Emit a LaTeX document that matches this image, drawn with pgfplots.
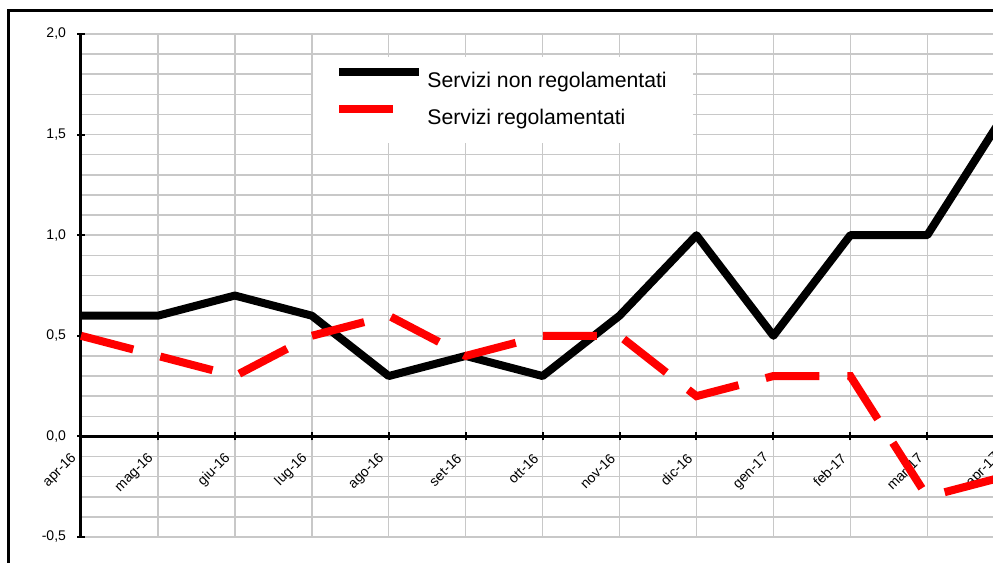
\documentclass[border=0pt]{standalone}
\usepackage{pgfplots}
\pgfplotsset{compat=1.18}
\usepackage{fontspec}
\setmainfont{Liberation Sans}

\definecolor{gridgray}{RGB}{200,200,200}

\begin{document}
\begin{tikzpicture}
% page = 993 x 563 px, 1 px = 0.5pt
\path[use as bounding box] (0,0) rectangle (496.5pt,281.5pt);
\clip (0,0) rectangle (496.5pt,281.5pt);
% chart frame (only left and top edge are inside the crop)
\draw[line width=1.5pt] (4.25pt,-10pt) -- (4.25pt,276.25pt) -- (520pt,276.25pt);

\begin{axis}[
  at={(40.5pt,13pt)}, anchor=south west,
  scale only axis, width=461.6pt, height=251.5pt,
  xmin=0, xmax=12, ymin=-0.5, ymax=2,
  clip=false,
  axis x line=middle, axis y line=left,
  axis line style={-, line width=1.5pt},
  hide obscured x ticks=false,
  xtick={0,...,12},
  xticklabels={apr-16,mag-16,giu-16,lug-16,ago-16,set-16,ott-16,nov-16,dic-16,gen-17,feb-17,mar-17,apr-17},
  ytick={-0.5,0,0.5,1,1.5,2},
  minor y tick num=4,
  xmajorgrids, ymajorgrids, yminorgrids,
  major grid style={gridgray, line width=0.75pt},
  minor grid style={gridgray, line width=0.75pt},
  tick align=center, major tick length=4pt, minor tick length=0pt,
  tick style={black, line width=1pt},
  yticklabel style={font=\fontsize{7}{8}\selectfont, xshift=-2pt,
    /pgf/number format/fixed, /pgf/number format/fixed zerofill,
    /pgf/number format/precision=1, /pgf/number format/use comma,
    /pgf/number format/assume math mode=true},
  xticklabel style={font=\fontsize{7}{8}\selectfont, xshift=-2.5pt, yshift=-7pt,
    rotate=45, anchor=east, inner sep=1pt},
  legend image code/.code={\draw[#1] (0pt,0.47em) -- (40pt,0.47em);},
  legend cell align=left,
  legend style={at={(0.2514,0.9543)}, anchor=north west, draw=none, fill=white,
    font=\fontsize{10.6}{12}\selectfont, inner xsep=11pt, inner ysep=5.5pt,
    row sep=5pt, /tikz/every even column/.append style={column sep=0pt}},
]
\addplot[black, line width=4pt, line join=round] coordinates {
  (0,0.6) (1,0.6) (2,0.7) (3,0.6) (4,0.3) (5,0.4) (6,0.3)
  (7,0.6) (8,1.0) (9,0.5) (10,1.0) (11,1.0) (12,1.6)};
\addplot[red, line width=4pt, dash pattern=on 27pt off 14pt] coordinates {
  (0,0.5) (1,0.4) (2,0.3) (3,0.5) (4,0.6) (5,0.4) (6,0.5)
  (7,0.5) (8,0.2) (9,0.3) (10,0.3) (11,-0.3) (12,-0.2)};
\legend{Servizi non regolamentati, Servizi regolamentati}
\end{axis}
\end{tikzpicture}
\end{document}
